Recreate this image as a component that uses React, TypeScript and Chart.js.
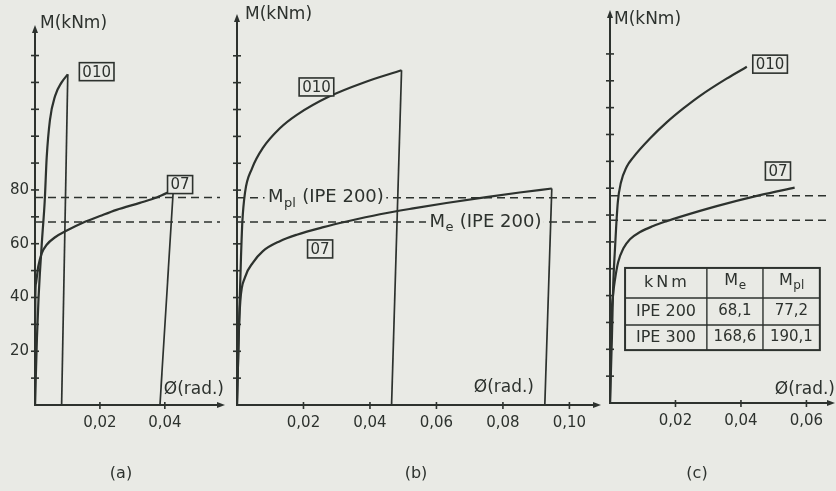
import { useEffect, useRef } from 'react';
import { Chart, registerables } from 'chart.js';

Chart.register(...registerables);

const W = 836;
const H = 491;
const INK = '#2d322e';
const BG = '#e9eae5';
const FONT = '"DejaVu Sans", "Liberation Sans", Arial, sans-serif';

// Reference moments of IPE 200 (kNm)
const M_E_IPE200 = 68.1;
const M_PL_IPE200 = 77.2;

// Axis ticks
const yTickValues = [10, 20, 30, 40, 50, 60, 70, 80, 90, 100, 110, 120, 130];
const yLabelValuesA = [20, 40, 60, 80];
const xTicksA = [0.02, 0.04];
const xTicksB = [0.02, 0.04, 0.06, 0.08, 0.1];
const xTicksC = [0.02, 0.04, 0.06];

// Panel (a)
const a010Phi = [0, 0.0006, 0.0011, 0.0015, 0.0022, 0.003, 0.0036, 0.0046, 0.0062, 0.0082, 0.0101];
const a010M = [0, 25, 40, 49, 62, 76, 92, 106, 115, 120, 123];
const a010FailPhi = 0.0082;
const a07Phi = [0, 0.0001, 0.0003, 0.001, 0.0021, 0.0036, 0.0062, 0.0098, 0.0149, 0.02, 0.0251, 0.0323, 0.0375, 0.0426];
const a07M = [0, 40, 45.3, 51.5, 56.5, 59.6, 62.4, 64.9, 67.9, 70.3, 72.6, 75.2, 77.2, 80];
const a07FailPhi = 0.0385;

// Panel (b)
const b010Phi = [0, 0.0006, 0.0012, 0.0016, 0.0024, 0.0045, 0.0078, 0.0129, 0.018, 0.028, 0.038, 0.0495];
const b010M = [0, 30, 55, 68, 79, 88, 95.7, 103, 108, 115, 120, 124.6];
const b010FailPhi = 0.0465;
const b07Phi = [0, 0.0005, 0.001, 0.0024, 0.0048, 0.0078, 0.0129, 0.018, 0.026, 0.033, 0.043, 0.053, 0.063, 0.075, 0.085, 0.0947];
const b07M = [0, 25, 38.7, 47.5, 53, 57.3, 61, 63.4, 66.2, 68.3, 71, 73.2, 75.2, 77.4, 79.1, 80.6];
const b07FailPhi = 0.0926;

// Panel (c)
const c010Phi = [0, 0.0006, 0.001, 0.0015, 0.0019, 0.0024, 0.0033, 0.0051, 0.0071, 0.0122, 0.0173, 0.0224, 0.0275, 0.0356, 0.0418];
const c010M = [0, 25, 44.6, 57, 66, 75, 81.9, 88, 91.5, 98.5, 104.5, 109.7, 114.4, 120.8, 125.2];
const c07Phi = [0, 0.0004, 0.001, 0.0015, 0.0025, 0.0041, 0.0061, 0.0092, 0.0132, 0.0173, 0.0214, 0.0326, 0.0458, 0.0564];
const c07M = [0, 30, 41, 45.8, 52.5, 57.6, 61, 63.7, 65.9, 67.7, 69.3, 73.3, 77.4, 80.2];

// Table in panel (c)
const tableHead = ['kNm', 'e', 'pl'];
const tableRowNames = ['IPE 200', 'IPE 300'];
const tableMe = ['68,1', '168,6'];
const tableMpl = ['77,2', '190,1'];

type Curve = { phi: number[]; m: number[]; failPhi?: number };
type Tag = { text: string; x: number; y: number };
type LineLabel = { sub: string; rest: string; x: number; y: number };
type PanelCfg = {
  key: string;
  curves: Curve[];
  area: { left: number; right: number; top: number; bottom: number };
  xMax: number;
  yMax: number;
  xTicks: number[];
  yLabels: number[];
  tags: Tag[];
  lineLabels: LineLabel[];
  title: { x: number; y: number };
  phiLabel: { x: number; y: number };
  caption: { text: string; x: number; y: number };
  table?: { x0: number; x1: number; yTop: number; yBottom: number };
};

const panels: PanelCfg[] = [
  {
    key: 'a',
    curves: [
      { phi: a010Phi, m: a010M, failPhi: a010FailPhi },
      { phi: a07Phi, m: a07M, failPhi: a07FailPhi },
    ],
    area: { left: 35, right: 220, top: 30, bottom: 405 },
    xMax: 0.057,
    yMax: 139.5,
    xTicks: xTicksA,
    yLabels: yLabelValuesA,
    tags: [
      { text: '010', x: 0.019, y: 124 },
      { text: '07', x: 0.0447, y: 82 },
    ],
    lineLabels: [],
    title: { x: 40, y: 24 },
    phiLabel: { x: 224, y: 390 },
    caption: { text: '(a)', x: 121, y: 474 },
  },
  {
    key: 'b',
    curves: [
      { phi: b010Phi, m: b010M, failPhi: b010FailPhi },
      { phi: b07Phi, m: b07M, failPhi: b07FailPhi },
    ],
    area: { left: 237, right: 596, top: 19, bottom: 405 },
    xMax: 0.108,
    yMax: 143.7,
    xTicks: xTicksB,
    yLabels: [],
    tags: [
      { text: '010', x: 0.0239, y: 118.4 },
      { text: '07', x: 0.025, y: 58.1 },
    ],
    lineLabels: [
      { sub: 'pl', rest: ' (IPE 200)', x: 0.0266, y: M_PL_IPE200 },
      { sub: 'e', rest: ' (IPE 200)', x: 0.0746, y: M_E_IPE200 },
    ],
    title: { x: 245, y: 15 },
    phiLabel: { x: 534, y: 388 },
    caption: { text: '(b)', x: 416, y: 474 },
  },
  {
    key: 'c',
    curves: [
      { phi: c010Phi, m: c010M },
      { phi: c07Phi, m: c07M },
    ],
    area: { left: 610, right: 830, top: 15, bottom: 403 },
    xMax: 0.0672,
    yMax: 144.5,
    xTicks: xTicksC,
    yLabels: [],
    tags: [
      { text: '010', x: 0.0489, y: 126.2 },
      { text: '07', x: 0.0513, y: 86.4 },
    ],
    lineLabels: [],
    title: { x: 614, y: 20 },
    phiLabel: { x: 835, y: 390 },
    caption: { text: '(c)', x: 697, y: 474 },
    table: { x0: 0.0046, x1: 0.0641, yTop: 50.3, yBottom: 19.7 },
  },
];

const Y_W = 30;
const X_H = 34;

function drawMSub(ctx: CanvasRenderingContext2D, sub: string, rest: string, cx: number, cy: number, size: number) {
  const f1 = `${size}px ${FONT}`;
  const f2 = `${Math.round(size * 0.72)}px ${FONT}`;
  ctx.font = f1;
  const w1 = ctx.measureText('M').width;
  const w3 = ctx.measureText(rest).width;
  ctx.font = f2;
  const w2 = ctx.measureText(sub).width;
  const total = w1 + w2 + w3;
  let x = cx - total / 2;
  ctx.textAlign = 'left';
  ctx.textBaseline = 'middle';
  ctx.font = f1;
  ctx.fillText('M', x, cy);
  x += w1;
  ctx.font = f2;
  ctx.fillText(sub, x + 0.5, cy + size * 0.32);
  x += w2 + 1;
  ctx.font = f1;
  ctx.fillText(rest, x, cy);
  return total;
}

function Panel({ cfg }: { cfg: PanelCfg }) {
  const ref = useRef<HTMLCanvasElement | null>(null);
  useEffect(() => {
    const canvas = ref.current;
    if (!canvas) return;
    const datasets: any[] = [];
    for (const c of cfg.curves) {
      datasets.push({
        data: c.phi.map((p, i) => ({ x: p, y: c.m[i] })),
        borderColor: INK,
        borderWidth: 2.2,
        pointRadius: 0,
        cubicInterpolationMode: 'monotone',
        fill: false,
      });
      if (c.failPhi !== undefined) {
        const n = c.phi.length - 1;
        datasets.push({
          data: [
            { x: c.phi[n], y: c.m[n] },
            { x: c.failPhi, y: 0 },
          ],
          borderColor: INK,
          borderWidth: 1.7,
          pointRadius: 0,
          tension: 0,
          fill: false,
        });
      }
    }
    for (const level of [M_PL_IPE200, M_E_IPE200]) {
      datasets.push({
        data: [
          { x: 0, y: level },
          { x: cfg.xMax, y: level },
        ],
        borderColor: INK,
        borderWidth: 1.5,
        borderDash: [8, 5],
        pointRadius: 0,
        fill: false,
      });
    }

    const decor = {
      id: 'decor' + cfg.key,
      afterDatasetsDraw(chart: any) {
        const ctx: CanvasRenderingContext2D = chart.ctx;
        const xs = chart.scales.x;
        const ys = chart.scales.y;
        const { left, right, top, bottom } = chart.chartArea;
        ctx.save();
        ctx.strokeStyle = INK;
        ctx.fillStyle = INK;
        ctx.lineWidth = 2;
        ctx.setLineDash([]);
        // axes
        ctx.beginPath();
        ctx.moveTo(left, top);
        ctx.lineTo(left, bottom);
        ctx.lineTo(right, bottom);
        ctx.stroke();
        // arrows
        ctx.beginPath();
        ctx.moveTo(left, top - 5);
        ctx.lineTo(left - 3, top + 3);
        ctx.lineTo(left + 3, top + 3);
        ctx.closePath();
        ctx.fill();
        ctx.beginPath();
        ctx.moveTo(right + 5, bottom);
        ctx.lineTo(right - 3, bottom - 3);
        ctx.lineTo(right - 3, bottom + 3);
        ctx.closePath();
        ctx.fill();
        // tick marks
        ctx.lineWidth = 1.6;
        for (const v of yTickValues) {
          const y = ys.getPixelForValue(v);
          ctx.beginPath();
          ctx.moveTo(left - 4, y);
          ctx.lineTo(left + 4, y);
          ctx.stroke();
        }
        for (const v of cfg.xTicks) {
          const x = xs.getPixelForValue(v);
          ctx.beginPath();
          ctx.moveTo(x, bottom - 3);
          ctx.lineTo(x, bottom + 4);
          ctx.stroke();
        }
        // axis titles
        ctx.font = `17px ${FONT}`;
        ctx.textBaseline = 'middle';
        ctx.textAlign = 'left';
        ctx.fillText('M(kNm)', cfg.title.x, cfg.title.y);
        ctx.textAlign = 'right';
        ctx.fillText('Ø(rad.)', cfg.phiLabel.x, cfg.phiLabel.y);
        // caption
        ctx.textAlign = 'center';
        ctx.font = `16px ${FONT}`;
        ctx.fillText(cfg.caption.text, cfg.caption.x, cfg.caption.y);
        // line labels on the dashed lines
        for (const ll of cfg.lineLabels) {
          const cx = xs.getPixelForValue(ll.x);
          const cy = ys.getPixelForValue(ll.y);
          ctx.font = `18px ${FONT}`;
          const wM = ctx.measureText('M' + ll.rest).width;
          ctx.font = `13px ${FONT}`;
          const wS = ctx.measureText(ll.sub).width;
          const tw = wM + wS + 1;
          ctx.fillStyle = BG;
          ctx.fillRect(cx - tw / 2 - 3, cy - 8, tw + 6, 17);
          ctx.fillStyle = INK;
          drawMSub(ctx, ll.sub, ll.rest, cx, cy, 18);
        }
        // boxed tags
        ctx.font = `15px ${FONT}`;
        ctx.textAlign = 'center';
        ctx.textBaseline = 'middle';
        for (const t of cfg.tags) {
          const cx = xs.getPixelForValue(t.x);
          const cy = ys.getPixelForValue(t.y);
          const tw = ctx.measureText(t.text).width;
          ctx.fillStyle = BG;
          ctx.fillRect(cx - tw / 2 - 3, cy - 9, tw + 6, 18);
          ctx.lineWidth = 1.6;
          ctx.strokeRect(cx - tw / 2 - 3, cy - 9, tw + 6, 18);
          ctx.fillStyle = INK;
          ctx.fillText(t.text, cx, cy + 1);
        }
        // table
        if (cfg.table) {
          const tb = cfg.table;
          const x0 = xs.getPixelForValue(tb.x0);
          const x1 = xs.getPixelForValue(tb.x1);
          const y0 = ys.getPixelForValue(tb.yTop);
          const y1 = ys.getPixelForValue(tb.yBottom);
          const w = x1 - x0;
          const h = y1 - y0;
          const cols = [x0, x0 + w * 0.42, x0 + w * 0.708, x1];
          const rows = [y0, y0 + h * 0.366, y0 + h * 0.695, y1];
          ctx.fillStyle = BG;
          ctx.fillRect(x0, y0, w, h);
          ctx.lineWidth = 2;
          ctx.strokeRect(x0, y0, w, h);
          ctx.lineWidth = 1.4;
          for (let i = 1; i < 3; i++) {
            ctx.beginPath();
            ctx.moveTo(cols[i], y0);
            ctx.lineTo(cols[i], y1);
            ctx.stroke();
            ctx.beginPath();
            ctx.moveTo(x0, rows[i]);
            ctx.lineTo(x1, rows[i]);
            ctx.stroke();
          }
          ctx.fillStyle = INK;
          const cc = (i: number) => (cols[i] + cols[i + 1]) / 2;
          const rc = (j: number) => (rows[j] + rows[j + 1]) / 2;
          ctx.textAlign = 'center';
          ctx.textBaseline = 'middle';
          ctx.font = `16px ${FONT}`;
          (ctx as any).letterSpacing = '3px';
          ctx.fillText(tableHead[0], cc(0) + 1, rc(0));
          (ctx as any).letterSpacing = '0px';
          drawMSub(ctx, tableHead[1], '', cc(1), rc(0) - 2, 16);
          drawMSub(ctx, tableHead[2], '', cc(2), rc(0) - 2, 16);
          for (let j = 0; j < tableRowNames.length; j++) {
            ctx.textAlign = 'center';
            ctx.textBaseline = 'middle';
            ctx.font = `16px ${FONT}`;
            ctx.fillText(tableRowNames[j], cc(0), rc(j + 1));
            ctx.font = `15px ${FONT}`;
            ctx.fillText(tableMe[j], cc(1), rc(j + 1));
            ctx.fillText(tableMpl[j], cc(2), rc(j + 1));
          }
        }
        ctx.restore();
      },
    };

    const chart = new Chart(canvas, {
      type: 'line',
      data: { datasets },
      options: {
        animation: false,
        responsive: false,
        devicePixelRatio: 1,
        events: [],
        layout: {
          padding: {
            left: cfg.area.left - Y_W,
            right: W - cfg.area.right,
            top: cfg.area.top,
            bottom: H - cfg.area.bottom - X_H,
          },
        },
        plugins: { legend: { display: false }, tooltip: { enabled: false }, title: { display: false } },
        scales: {
          x: {
            type: 'linear',
            min: 0,
            max: cfg.xMax,
            grid: { display: false, drawTicks: false },
            border: { display: false },
            afterBuildTicks: (s: any) => {
              s.ticks = cfg.xTicks.map((v) => ({ value: v }));
            },
            afterFit: (s: any) => {
              s.height = X_H;
            },
            ticks: {
              color: INK,
              font: { family: FONT, size: 15 },
              padding: 9,
              maxRotation: 0,
              autoSkip: false,
              callback: (v: any) => Number(v).toFixed(2).replace('.', ','),
            },
          },
          y: {
            type: 'linear',
            min: 0,
            max: cfg.yMax,
            grid: { display: false, drawTicks: false },
            border: { display: false },
            afterBuildTicks: (s: any) => {
              s.ticks = yTickValues.map((v) => ({ value: v }));
            },
            afterFit: (s: any) => {
              s.width = Y_W;
            },
            ticks: {
              color: INK,
              font: { family: FONT, size: 15 },
              padding: 6,
              autoSkip: false,
              callback: (v: any) => (cfg.yLabels.includes(Number(v)) ? String(v) : ''),
            },
          },
        },
      },
      plugins: [decor],
    } as any);
    return () => chart.destroy();
  }, [cfg]);
  return (
    <canvas
      ref={ref}
      width={W}
      height={H}
      style={{ position: 'absolute', left: 0, top: 0, width: W, height: H }}
    />
  );
}

export default function App() {
  return (
    <div
      style={{
        position: 'fixed',
        left: 0,
        top: 0,
        width: W,
        height: H,
        background: BG,
        overflow: 'hidden',
      }}
    >
      {panels.map((p) => (
        <Panel key={p.key} cfg={p} />
      ))}
    </div>
  );
}
